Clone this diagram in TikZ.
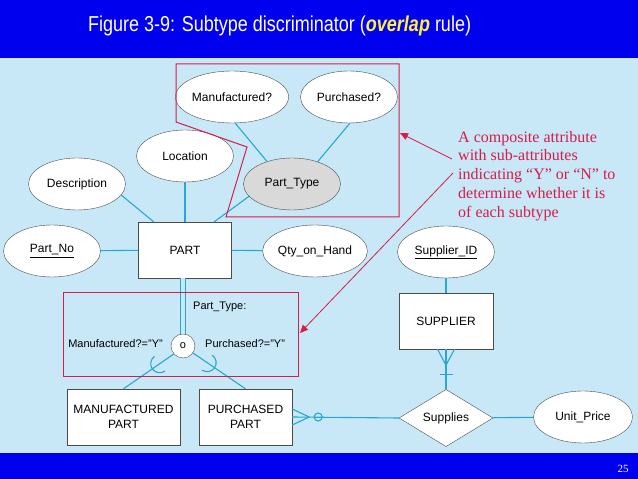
\documentclass[tikz,border=0pt]{standalone}
\usepackage{fontspec}
\setmainfont{Liberation Sans}
\newfontfamily\notefont{Liberation Serif}
\usetikzlibrary{calc}
\usetikzlibrary{positioning}
\usetikzlibrary{shapes.geometric}
\usetikzlibrary{arrows.meta}
\definecolor{slideblue}{RGB}{0,0,238}
\definecolor{paneblue}{RGB}{200,232,248}
\definecolor{linkcyan}{RGB}{40,168,208}
\definecolor{notered}{RGB}{214,28,72}
\definecolor{edgegray}{RGB}{75,75,75}
\definecolor{titleyellow}{RGB}{255,240,60}

\begin{document}
\begin{tikzpicture}[x=1pt, y=1pt, font=\fontsize{12}{14}\selectfont]
	\tikzstyle{attr}=[draw=edgegray, ellipse, fill=white, minimum width=97pt, minimum height=52pt, inner sep=0pt]
	\tikzstyle{entity}=[draw=edgegray, rectangle, fill=white, minimum width=93pt, minimum height=56pt, inner sep=0pt, align=center, font=\fontsize{12}{15}\selectfont]
	\tikzstyle{rel}=[draw=edgegray, diamond, fill=white, minimum width=94pt, minimum height=51pt, inner sep=0pt]
	\tikzstyle{conn}=[draw=linkcyan, line width=1.1pt]
	\tikzstyle{callout}=[draw=notered, line width=1pt]
	\tikzstyle{lbl}=[font=\fontsize{11}{13}\selectfont, inner sep=0pt]

	% slide background
	\fill[paneblue] (0,0) rectangle (638,479);
	\fill[slideblue] (0,421) rectangle (638,479);
	\fill[slideblue] (0,0) rectangle (638,26);
	\useasboundingbox (0,0) rectangle (638,479);

	\node[anchor=west, text=white, inner sep=0pt, font=\fontsize{18}{20}\selectfont] (title) at (88,453) {\scalebox{1}[1.2]{Figure 3-9: Subtype discriminator (\textcolor{titleyellow}{\textbf{\textit{overlap}}} rule)}};

	% PART and its attributes
	\node[attr] (manuf) at (232,382) {Manufactured?};
	\node[attr] (purch) at (349,382) {Purchased?};
	\node[attr] (loc) at (185,323) {Location};
	\node[attr] (descr) at (77,295) {Description};
	\node[attr, fill=black!15] (ptype) at (292,295) {Part\_Type};
	\node[entity] (part) at (185,229) {PART};
	\node[attr] (partno) at (52,228) {\underline{Part\_No}};
	\node[attr] (qty) at (315,228) {Qty\_on\_Hand};

	% subtypes
	\node[circle, draw=edgegray, fill=white, minimum size=24pt, inner sep=0pt, font=\fontsize{11}{13}\selectfont] (disc) at (183,133) {o};
	\node[entity, minimum width=113pt] (mpart) at (123.5,62) {MANUFACTURED\\PART};
	\node[entity] (ppart) at (245.5,62) {PURCHASED\\PART};

	% supplier side
	\node[attr] (supid) at (446,227) {\underline{Supplier\_ID}};
	\node[entity, minimum width=94pt] (supp) at (446,158) {SUPPLIER};
	\node[rel] (sups) at (446,61) {Supplies};
	\node[attr, minimum width=99pt] (price) at (583,62) {Unit\_Price};

	\draw[conn] (descr.-14) -- (part.138);
	\draw[conn] (loc) -- (part);
	\draw[conn] (ptype.196) -- (part.44);
	\draw[conn] (manuf.-83) -- (ptype.138);
	\draw[conn] (purch.-88) -- (ptype.41);
	\draw[conn] (partno) -- (part);
	\draw[conn] (part) -- (qty);
	\draw[conn, double=paneblue, double distance=3.5pt, line width=0.9pt] (part.south -| disc) -- (disc.north);
	\draw[conn] (disc.221) -- (mpart.north);
	\draw[conn] (disc.-35) -- (ppart.north);
	\draw[conn] ($(disc.221)!0.28!(mpart.north)$) ++(125:9pt) arc[start angle=125, end angle=305, radius=9pt];
	\draw[conn] ($(disc.-35)!0.27!(ppart.north)$) ++(236:9pt) arc[start angle=236, end angle=416, radius=9pt];

	\draw[conn] (ppart.east) -- (sups.west);
	\draw[conn] ($(ppart.east)+(0,8)$) -- ($(ppart.east)+(17,0)$) -- ($(ppart.east)+(0,-8)$);
	\draw[conn] ($(ppart.east)+(26,0)$) circle[radius=4pt];
	\draw[conn] (supid) -- (supp);
	\draw[conn] (supp) -- (sups);
	\draw[conn] ($(supp.south)+(-8.5,0)$) -- ($(supp.south)+(0,-16)$) -- ($(supp.south)+(8.5,0)$);
	\draw[conn] ($(supp.south)+(-6.5,-25)$) -- ($(supp.south)+(6.5,-25)$);
	\draw[conn] (sups) -- (price);

	\node[lbl, anchor=west] (ptlabel) at (193,172) {Part\_Type:};
	\node[lbl, anchor=east] (mlabel) at (163,135) {Manufactured?="Y"};
	\node[lbl, anchor=west] (plabel) at (205,135) {Purchased?="Y"};

	% red callouts
	\draw[callout] (176,415) -- (399,415) -- (399,262) -- (226,262) -- (247,332) -- (176,357) -- cycle;
	\draw[callout] (63,102) rectangle (298,186);
	\node[anchor=north west, text=notered, align=left, inner sep=0pt, font=\notefont\fontsize{16}{18.7}\selectfont] (note) at (458,348) {A composite attribute\\with sub-attributes\\indicating “Y” or “N” to\\determine whether it is\\of each subtype};
	\coordinate (fromA) at (452,320);
	\coordinate (tipA) at (400,346);
	\coordinate (fromB) at (453,306);
	\coordinate (tipB) at (300,146);
	\draw[callout, line width=0.8pt, -{Triangle[length=8pt,width=7pt]}] (fromA) -- (tipA);
	\draw[callout, line width=0.8pt, -{Triangle[length=8pt,width=7pt]}] (fromB) -- (tipB);

	\node[text=white, font=\notefont\fontsize{11}{13}\selectfont] (pageno) at (623,10) {25};
\end{tikzpicture}
\end{document}
